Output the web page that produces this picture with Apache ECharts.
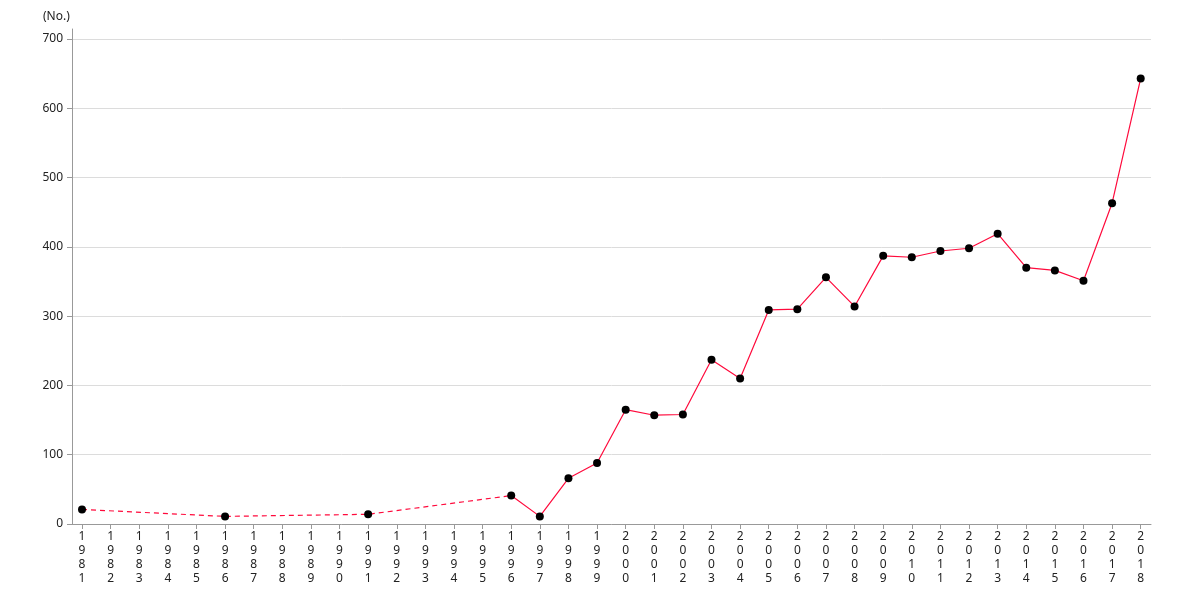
<!DOCTYPE html>
<html>
<head>
<meta charset="utf-8">
<script src="https://cdn.jsdelivr.net/npm/echarts@6/dist/echarts.min.js"></script>
<style>
html,body{margin:0;padding:0;background:#fff;}
#chart{width:1180px;height:600px;}
</style>
</head>
<body>
<div id="chart"></div>
<script>
// Years and observed values (null = no observation that year)
var years = [1981,1982,1983,1984,1985,1986,1987,1988,1989,1990,1991,1992,1993,1994,1995,1996,1997,1998,1999,2000,2001,2002,2003,2004,2005,2006,2007,2008,2009,2010,2011,2012,2013,2014,2015,2016,2017,2018];
var counts = [21,null,null,null,null,11,null,null,null,null,14,null,null,null,null,41,11,66,88,165,157,158,237,210,309,310,356,314,387,385,394,398,419,370,366,351,463,643];
var yTicks = [0,100,200,300,400,500,600,700];
var yUnit = '(No.)';
var gapEndYear = 1996; // data before this year are sparse (dashed connection)

var observed = [];
var sparse = [];
var annual = [];
for (var i = 0; i < years.length; i++) {
  if (counts[i] == null) continue;
  var pt = [years[i], counts[i]];
  observed.push(pt);
  if (years[i] <= gapEndYear) sparse.push(pt);
  if (years[i] >= gapEndYear) annual.push(pt);
}

var chart = echarts.init(document.getElementById('chart'), null, {renderer: 'canvas'});
var font = '"Noto Sans", "Open Sans", sans-serif';
chart.setOption({
  animation: false,
  backgroundColor: '#fff',
  textStyle: {fontFamily: font},
  grid: {left: 72, right: 29, top: 29, bottom: 76, containLabel: false},
  title: {
    text: yUnit, left: 38, top: 6,
    textStyle: {fontFamily: font, fontSize: 12, fontWeight: 'normal', color: '#222'}
  },
  xAxis: {
    type: 'value',
    min: 1980.65, max: 2018.36,
    axisLine: {show: true, lineStyle: {color: '#999', width: 1}},
    axisTick: {show: true, length: 5, customValues: years, lineStyle: {color: '#999'}},
    splitLine: {show: false},
    axisLabel: {
      customValues: years,
      color: '#222', fontSize: 12, fontFamily: font, lineHeight: 14, margin: 6,
      formatter: function (v) { return String(Math.round(v)).split('').join('\n'); }
    }
  },
  yAxis: {
    type: 'value',
    min: 0, max: 714.4,
    axisLine: {show: true, lineStyle: {color: '#999', width: 1}},
    axisTick: {show: true, length: 5, customValues: yTicks, lineStyle: {color: '#999'}},
    splitLine: {show: true, lineStyle: {color: '#dcdcdc', width: 1}},
    axisLabel: {customValues: yTicks, color: '#222', fontSize: 12, fontFamily: font, margin: 9}
  },
  series: [
    {
      type: 'line', data: sparse, showSymbol: false, symbol: 'none',
      lineStyle: {color: '#ff0a3c', width: 1.2, type: [5, 4]},
      z: 2
    },
    {
      type: 'line', data: annual, showSymbol: false, symbol: 'none',
      lineStyle: {color: '#ff0a3c', width: 1.2},
      z: 2
    },
    {
      type: 'scatter', data: observed, symbol: 'circle', symbolSize: 8,
      itemStyle: {color: '#000', opacity: 1},
      z: 3
    }
  ]
});
</script>
</body>
</html>
